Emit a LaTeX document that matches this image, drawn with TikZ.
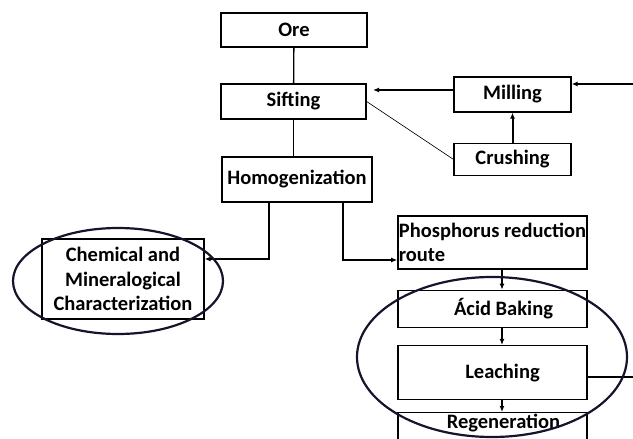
\documentclass[tikz,border=0pt]{standalone}
\usepackage{fontspec}
\setmainfont{Carlito}
\usetikzlibrary{positioning,arrows.meta}
\definecolor{traco}{HTML}{14142a}

\begin{document}
\begin{tikzpicture}[x=1pt, y=-1pt,
  font=\fontsize{20.5}{24.5}\selectfont\bfseries,
  caixa/.style={draw=black, line width=1.3pt, align=center, inner sep=2pt},
  seta/.style={-{Latex[length=6pt,width=5pt]}, line width=1.4pt},
  ligacao/.style={line width=1.3pt},
  laco/.style={draw=traco, line width=2.2pt}]
\useasboundingbox (0,0) rectangle (633,439);
\clip (0,0) rectangle (633,439);
% ---- coluna central
\node[caixa, minimum width=146pt, minimum height=34pt] (ore) at (294,30) {Ore};
\node[caixa, minimum width=145pt, minimum height=35pt] (sift) at (293.5,101.5) {Sifting};
\node[caixa, minimum width=150pt, minimum height=45pt] (homog) at (297,179.5) {Homogenization};
% ---- preparo
\node[caixa, minimum width=117pt, minimum height=35pt] (mill) at (512.5,94.5) {Milling};
\node[caixa, minimum width=117pt, minimum height=32pt, below=30pt of mill] (crush) {Crushing};
% ---- caracterizacao
\node[caixa, minimum width=162pt, minimum height=80pt] (chem) at (123,279) {Chemical and\\Mineralogical\\Characterization};
% ---- rota
\node[caixa, minimum width=189pt, minimum height=53pt, inner xsep=1pt, align=left] (phos) at (492.5,242.5) {Phosphorus reduction\\route};
\node[caixa, minimum width=189pt, minimum height=37pt, below=20pt of phos] (acid) {\hspace*{22pt}Ácid Baking};
\node[caixa, minimum width=189pt, minimum height=54pt, below=17pt of acid] (leach) {\hspace*{20pt}Leaching};
\node[caixa, minimum width=189pt, text height=13.5pt, text depth=25pt, anchor=north] (regen) at (leach.south |- 0,412) {\hspace*{22pt}Regeneration};
\coordinate (feedR) at (640,84);
\coordinate (siftin) at (373,90);
\coordinate (saida) at (640,377);
\draw[ligacao] (ore) -- (sift);
\draw[ligacao] (sift.south) -- (sift.south |- homog.north);
\draw[seta] (feedR) -- (mill.east |- feedR);
\draw[seta] (mill.west |- siftin) -- (siftin);
\draw[seta, line width=2pt] (crush) -- (mill);
\draw[line width=0.6pt] (sift.east) -- (crush.west);
\draw[seta, line width=2.2pt] ([xshift=-28pt]homog.south) |- ([yshift=20pt]chem.east);
\draw[seta, line width=2.2pt] ([xshift=46pt]homog.south) |- ([yshift=-17.5pt]phos.west);
\foreach \a/\b in {phos/acid, acid/leach, leach/regen}
  \draw[seta] ([xshift=9.5pt]\a.south) -- ([xshift=9.5pt]\b.north);
\draw[ligacao] (leach.east |- saida) -- (saida);
% ---- destaques
\draw[laco] (118,281) ellipse [x radius=105pt, y radius=53pt];
\draw[laco] (492,357) ellipse [x radius=135pt, y radius=80pt];
\end{tikzpicture}
\end{document}
